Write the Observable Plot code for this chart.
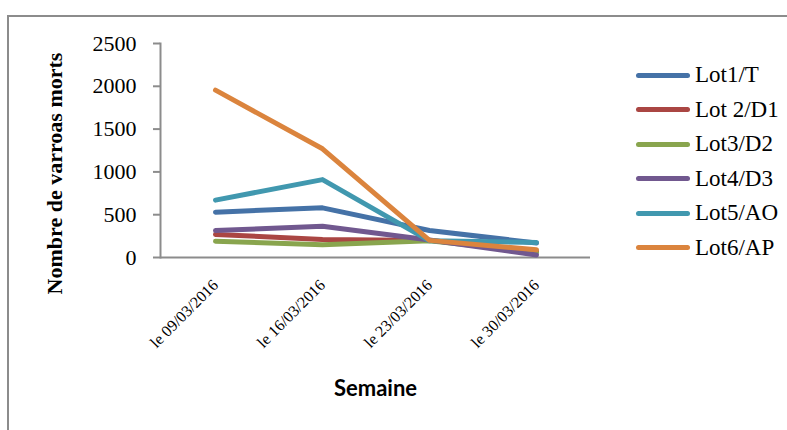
<!DOCTYPE html>
<html lang="fr">
<head>
<meta charset="utf-8">
<script src="https://cdn.jsdelivr.net/npm/d3@7"></script>
<script src="https://cdn.jsdelivr.net/npm/@observablehq/plot@0.6"></script>
<style>
  html, body { margin: 0; padding: 0; background: #fff; }
  #chart { position: relative; width: 787px; height: 430px; overflow: hidden; }
  #chart svg { font-family: "Liberation Serif", "Times New Roman", serif; }
  #cadre {
    position: absolute; left: 7px; top: 15px; right: -4px; bottom: -4px;
    border-left: 2px solid #8c8c8c; border-top: 2px solid #8c8c8c;
    pointer-events: none;
  }
  #legende {
    position: absolute; left: 636px; top: 58px;
    font-family: "Liberation Serif", "Times New Roman", serif; font-size: 23px; color: #000;
  }
  #legende .ligne { display: flex; align-items: center; height: 34.5px; }
  #legende .trait { width: 54px; height: 5px; border-radius: 3px; margin-right: 5px; }
</style>
</head>
<body>
<div id="chart"><div id="cadre"></div><div id="legende"></div></div>
<script>
// Semaines de comptage
const semaines = ["le 09/03/2016", "le 16/03/2016", "le 23/03/2016", "le 30/03/2016"];
// Lots de ruches
const lots = ["Lot1/T", "Lot 2/D1", "Lot3/D2", "Lot4/D3", "Lot5/AO", "Lot6/AP"];
// Nombre de varroas morts par semaine, un tableau par lot
const lot1 = [530, 580, 315, 170];
const lot2 = [270, 210, 200, 70];
const lot3 = [190, 150, 195, 60];
const lot4 = [315, 365, 205, 30];
const lot5 = [670, 910, 195, 175];
const lot6 = [1955, 1270, 200, 90];
// Graduations de l'axe vertical
const yTicks = [0, 500, 1000, 1500, 2000, 2500];
const couleurs = ["#4572A7", "#AA4643", "#89A54E", "#71588F", "#4198AF", "#DB843D"];

const series = [lot1, lot2, lot3, lot4, lot5, lot6];
const rows = lots.flatMap((lot, i) =>
  semaines.map((semaine, j) => ({ semaine, lot, valeur: series[i][j] }))
);

const gris = "#8c8c8c";
const serif = "'Liberation Serif', 'Times New Roman', serif";

const chart = Plot.plot({
  width: 787,
  height: 430,
  marginLeft: 160,
  marginRight: 197,
  marginTop: 43,
  marginBottom: 173,
  style: { background: "transparent", color: "#000", overflow: "visible",
    fontFamily: "'Liberation Serif', 'Times New Roman', serif" },
  x: { type: "point", domain: semaines, padding: 0.5 },
  y: { domain: [0, 2500] },
  color: { domain: lots, range: couleurs },
  marks: [
    Plot.axisY({ ticks: yTicks, tickFormat: d3.format("d"), tickSize: 7, tickPadding: 17,
      stroke: gris, strokeWidth: 2, fontSize: 22, fontFamily: serif, label: null }),
    Plot.axisX({ tickSize: 0, tickRotate: -45, tickPadding: 25, fontSize: 16,
      fontFamily: serif, label: null }),
    Plot.frame({ anchor: "left", stroke: gris, strokeWidth: 2 }),
    Plot.ruleY([0], { stroke: gris, strokeWidth: 2 }),
    Plot.lineY(rows, { x: "semaine", y: "valeur", z: "lot", stroke: "lot",
      strokeWidth: 5, strokeLinejoin: "round", strokeLinecap: "round" }),
    Plot.text(["Nombre de varroas morts"], { frameAnchor: "left", textAnchor: "middle",
      lineAnchor: "middle", dx: -106, dy: 23, rotate: -90,
      fontSize: 22, fontWeight: "bold", fontFamily: serif, fill: "#000" }),
    Plot.text(["Semaine"], { frameAnchor: "bottom", lineAnchor: "middle", dy: 131,
      fontSize: 22, fontWeight: "bold",
      fontFamily: "Lato, 'Liberation Sans', sans-serif", fill: "#000" })
  ]
});

const holder = document.getElementById("chart");
holder.insertBefore(chart, holder.firstChild);

const legende = document.getElementById("legende");
lots.forEach((lot, i) => {
  const ligne = document.createElement("div");
  ligne.className = "ligne";
  const trait = document.createElement("span");
  trait.className = "trait";
  trait.style.background = couleurs[i];
  const texte = document.createElement("span");
  texte.textContent = lot;
  ligne.append(trait, texte);
  legende.append(ligne);
});
</script>
</body>
</html>
